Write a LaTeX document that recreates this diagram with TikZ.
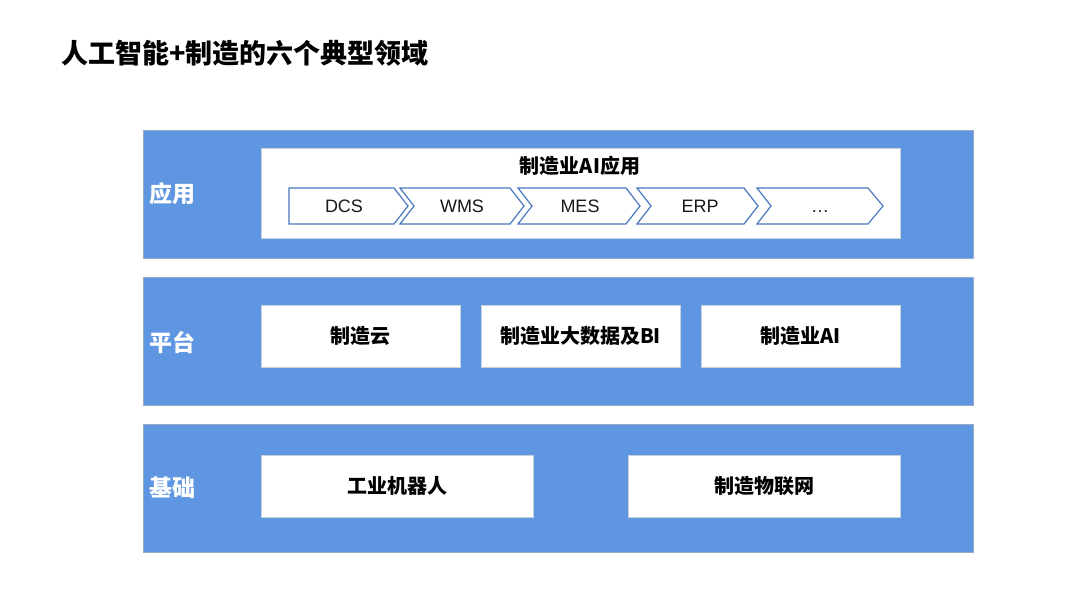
\documentclass[tikz,border=0pt]{standalone}
\usepackage{fontspec}
\setmainfont{Liberation Sans}
\newfontfamily\cjk{Noto Sans CJK SC}
\definecolor{bandblue}{RGB}{94,150,226}
\definecolor{bandedge}{RGB}{150,170,200}
\definecolor{chevedge}{RGB}{74,120,190}
\definecolor{boxedge}{RGB}{200,208,220}
\begin{document}
\begin{tikzpicture}[x=1pt,y=-1pt,
  band/.style={fill=bandblue,draw=bandedge,line width=0.8pt},
  whitebox/.style={fill=white,draw=boxedge,line width=0.8pt},
  bandlabel/.style={text=white,font=\cjk\bfseries\fontsize{23}{26}\selectfont,anchor=west,inner sep=0pt},
  boxtext/.style={font=\cjk\bfseries\fontsize{20}{24}\selectfont,text=black,inner sep=0pt},
  chevtext/.style={font=\fontsize{18}{21}\selectfont,text=black!90,inner sep=0pt},
  chev/.style={fill=white,draw=chevedge,line width=1.2pt,line join=miter}
]
\useasboundingbox (0,0) rectangle (1080,607);
\fill[white] (0,0) rectangle (1080,607);

% title
\node[anchor=west,inner sep=0pt,font=\cjk\bfseries\fontsize{27}{31}\selectfont] (title) at (61,53) {人工智能+制造的六个典型领域};

% bands
\draw[band] (143,130) rectangle (973,258);
\draw[band] (143,277) rectangle (973,405);
\draw[band] (143,424) rectangle (973,552);

\node[bandlabel] (l1) at (149,194) {应用};
\node[bandlabel] (l2) at (149,342) {平台};
\node[bandlabel] (l3) at (149,488) {基础};

% application box
\draw[whitebox] (261,148) rectangle (900,238);
\node[boxtext] (apptitle) at (580,166) {制造业AI应用};

% chevrons
\def\T{188}\def\B{224}\def\M{206}
\draw[chev] (289,\T) -- (394,\T) -- (408,\M) -- (394,\B) -- (289,\B) -- cycle;
\draw[chev] (400,\T) -- (510,\T) -- (524,\M) -- (510,\B) -- (400,\B) -- (414,\M) -- cycle;
\draw[chev] (518,\T) -- (626,\T) -- (640,\M) -- (626,\B) -- (518,\B) -- (532,\M) -- cycle;
\draw[chev] (637,\T) -- (744,\T) -- (758,\M) -- (744,\B) -- (637,\B) -- (651,\M) -- cycle;
\draw[chev] (757,\T) -- (868,\T) -- (883,\M) -- (868,\B) -- (757,\B) -- (771,\M) -- cycle;
\node[chevtext] (dcs) at (344,206.5) {DCS};
\node[chevtext] (wms) at (462,206.5) {WMS};
\node[chevtext] (mes) at (580,206.5) {MES};
\node[chevtext] (erp) at (700,206.5) {ERP};
\node[chevtext] (etc) at (820,206.5) {\vphantom{D}…};

% platform boxes
\draw[whitebox] (261,305) rectangle (460,367);
\draw[whitebox] (481,305) rectangle (680,367);
\draw[whitebox] (701,305) rectangle (900,367);
\node[boxtext] (p1) at (360.5,336) {制造云};
\node[boxtext] (p2) at (580.5,336) {制造业大数据及BI};
\node[boxtext] (p3) at (800.5,336) {制造业AI};

% foundation boxes
\draw[whitebox] (261,455) rectangle (533,517);
\draw[whitebox] (628,455) rectangle (900,517);
\node[boxtext] (f1) at (397,486) {工业机器人};
\node[boxtext] (f2) at (764,486) {制造物联网};
\end{tikzpicture}
\end{document}
